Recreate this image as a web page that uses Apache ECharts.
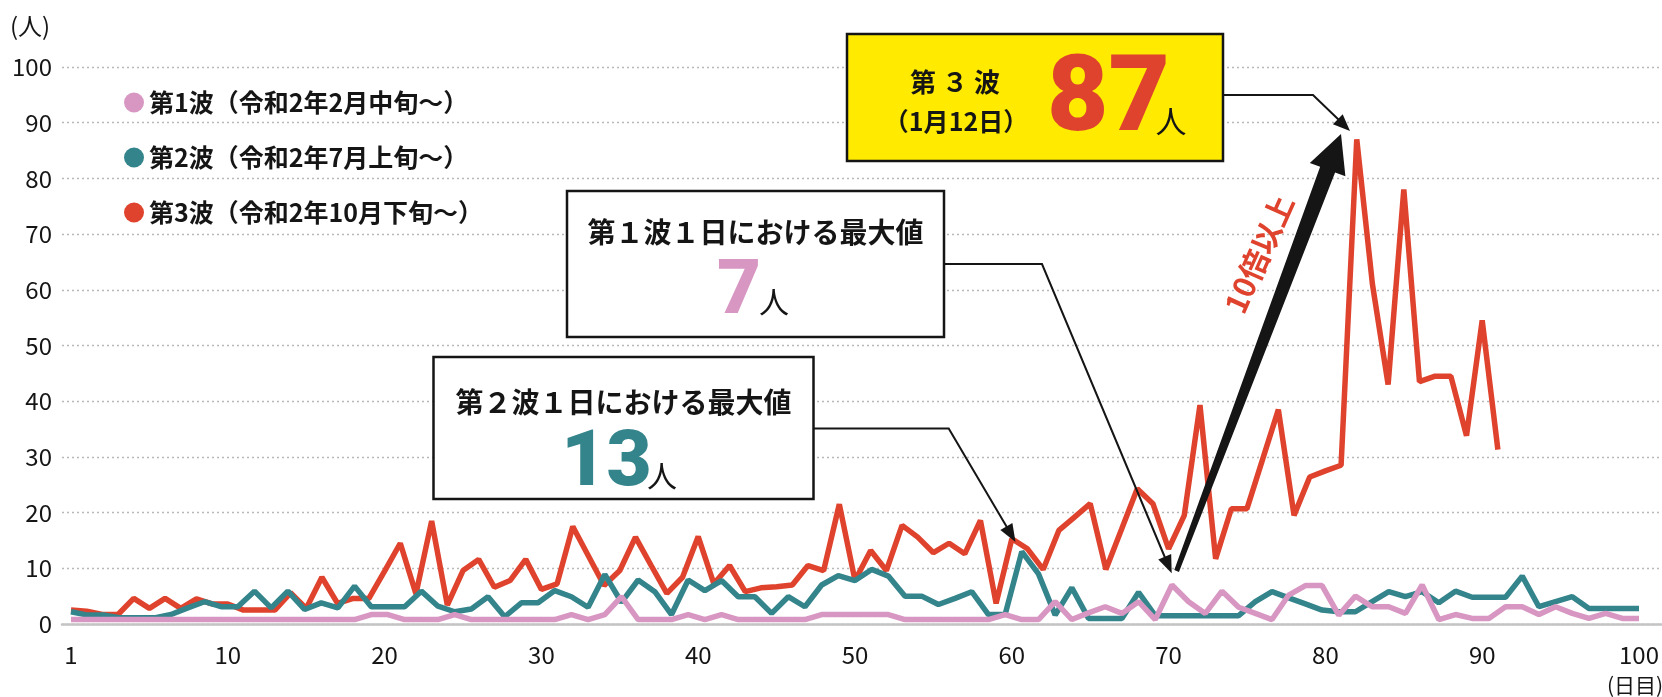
<!DOCTYPE html>
<html>
<head>
<meta charset="utf-8" />
<title>第1波・第2波・第3波 1日の新規感染者数</title>
<script src="https://cdn.jsdelivr.net/npm/echarts@6/dist/echarts.min.js"></script>
<style>
	html, body { margin: 0; padding: 0; background: #fff; }
	#main { width: 1662px; height: 697px; }
</style>
</head>
<body>
<div id="main"></div>
<script>
	var legendNames = ['第1波（令和2年2月中旬～）', '第2波（令和2年7月上旬～）', '第3波（令和2年10月下旬～）'];
	var xTickLabels = ['1', '10', '20', '30', '40', '50', '60', '70', '80', '90', '100'];

	// 第1波 (pink)
	var wave1 = [
		0.8, 0.8, 0.8, 0.8, 0.8, 0.8, 0.8, 0.8, 0.8, 0.8,
		0.8, 0.8, 0.8, 0.8, 0.8, 0.8, 0.8, 0.8, 1.7, 1.7,
		0.8, 0.8, 0.8, 1.7, 0.8, 0.8, 0.8, 0.8, 0.8, 0.8,
		1.7, 0.8, 1.7, 4.9, 0.8, 0.8, 0.8, 1.7, 0.8, 1.7,
		0.8, 0.8, 0.8, 0.8, 0.8, 1.7, 1.7, 1.7, 1.7, 1.7,
		0.8, 0.8, 0.8, 0.8, 0.8, 0.8, 1.7, 0.8, 0.8, 4.0,
		0.8, 2.0, 3.1, 1.9, 4.0, 0.8, 7, 4.0, 1.9, 5.9,
		3.0, 1.9, 0.8, 5.2, 6.9, 6.9, 1.6, 5.0, 3.1, 3.1,
		1.9, 7.0, 0.8, 1.7, 1.0, 1.0, 3.1, 3.1, 1.7, 3.1,
		1.9, 1.0, 1.9, 1.0, 1.0
	];
	// 第2波 (teal)
	var wave2 = [
		2.2, 1.6, 1.6, 1.1, 1.1, 1.1, 1.7, 2.9, 4.0, 3.1,
		3.1, 5.9, 2.9, 5.9, 2.6, 3.8, 2.9, 6.8, 3.1, 3.1,
		3.1, 5.9, 3.2, 2.2, 2.7, 4.9, 1.3, 3.8, 3.8, 6.0,
		4.9, 3.0, 8.9, 3.9, 7.9, 5.8, 1.7, 7.9, 6.0, 7.8,
		4.9, 4.9, 1.9, 4.9, 3.1, 7.0, 8.7, 7.8, 9.8, 8.6,
		5.0, 5.0, 3.5, 4.6, 5.8, 1.7, 1.7, 13, 9.0, 1.6,
		6.5, 1.0, 1.0, 1.0, 5.7, 1.5, 1.5, 1.5, 1.5, 1.5,
		1.5, 4.0, 5.8, 4.7, 3.6, 2.5, 2.2, 2.2, 4.0, 5.8,
		4.9, 5.8, 3.8, 5.9, 4.8, 4.8, 4.8, 8.6, 3.1, 4.0,
		4.9, 2.8, 2.8, 2.8, 2.8
	];
	// 第3波 (red)
	var wave3 = [
		2.5, 2.3, 1.7, 1.7, 4.6, 2.8, 4.6, 2.8, 4.5, 3.6,
		3.6, 2.5, 2.5, 2.5, 5.6, 2.8, 8.4, 3.7, 4.6, 4.6,
		9.5, 14.5, 5.4, 18.5, 3.4, 9.6, 11.6, 6.6, 7.8, 11.6,
		6.2, 7.2, 17.5, 12.2, 6.9, 9.6, 15.6, 10.5, 5.5, 8.4,
		15.7, 7.2, 10.5, 5.8, 6.5, 6.7, 7.0, 10.5, 9.6, 21.5,
		7.8, 13.2, 9.6, 17.7, 15.6, 12.8, 14.5, 12.6, 18.6, 3.7,
		15.3, 13.5, 9.8, 16.8, 19.2, 21.6, 9.8, 17, 24.3, 21.6,
		13.5, 19.5, 39.3, 11.7, 20.7, 20.7, 29.6, 38.5, 19.5, 26.4,
		27.5, 28.5, 87, 61, 43, 78, 43.5, 44.5, 44.5, 33.8,
		54.5, 31.3
	];

	// slots on the two day axes (the red wave is drawn on a 101-slot scale, waves 1/2 on 95 slots)
	var days3 = [];
	for (var i = 0; i < 101; i++) days3.push(i + 1);
	var days12 = [];
	for (var j = 0; j < 95; j++) days12.push(j + 1);

	var PINK = '#d897c2', TEAL = '#34848c', RED = '#df432d', INK = '#151515';
	var CJK = "'Noto Sans CJK JP', 'Noto Sans', sans-serif";
	var NUM = "Roboto, 'Noto Sans', sans-serif";

	function txt(x, y, text, size, color, weight, family, align) {
		return {
			type: 'text', z: 120,
			style: {
				x: x, y: y, text: text, fill: color,
				font: weight + ' ' + size + 'px ' + family,
				align: align || 'center', verticalAlign: 'middle',
				textAlign: align || 'center', textVerticalAlign: 'middle'
			}
		};
	}

	function line(points) {
		return { type: 'polyline', z: 110, shape: { points: points }, style: { stroke: INK, lineWidth: 2, fill: null } };
	}

	function head(from, tip, len, half) {
		var dx = tip[0] - from[0], dy = tip[1] - from[1];
		var d = Math.sqrt(dx * dx + dy * dy), ux = dx / d, uy = dy / d;
		var bx = tip[0] - ux * len, by = tip[1] - uy * len;
		return {
			type: 'polygon', z: 110,
			shape: { points: [tip, [bx - uy * half, by + ux * half], [bx + uy * half, by - ux * half]] },
			style: { fill: INK }
		};
	}

	function fatArrow(tail, tip, tailHalf, shaftHalf, headLen, headHalf) {
		var dx = tip[0] - tail[0], dy = tip[1] - tail[1];
		var d = Math.sqrt(dx * dx + dy * dy), ux = dx / d, uy = dy / d;
		var nx = -uy, ny = ux;
		var bx = tip[0] - ux * headLen, by = tip[1] - uy * headLen;
		return {
			type: 'polygon', z: 110,
			shape: {
				points: [
					[tail[0] + nx * tailHalf, tail[1] + ny * tailHalf],
					[bx + nx * shaftHalf, by + ny * shaftHalf],
					[bx + nx * headHalf, by + ny * headHalf],
					tip,
					[bx - nx * headHalf, by - ny * headHalf],
					[bx - nx * shaftHalf, by - ny * shaftHalf],
					[tail[0] - nx * tailHalf, tail[1] - ny * tailHalf]
				]
			},
			style: { fill: INK }
		};
	}

	var graphics = [
		// unit labels
		txt(10, 26, '(人)', 24, INK, 'normal', CJK, 'left'),
		txt(1607, 685, '(日目)', 21, INK, 'normal', CJK, 'left'),

		// 第3波 box
		{ type: 'rect', z: 100, shape: { x: 847, y: 34, width: 376, height: 127 }, style: { fill: '#ffea00', stroke: INK, lineWidth: 2.5 } },
		txt(955, 82, '第 ３ 波', 26, INK, 'bold', CJK),
		txt(956, 121, '（1月12日）', 25, INK, 'bold', CJK),
		txt(1047, 103, '87', 106, RED, '900', NUM, 'left'),
		txt(1171, 121, '人', 31, INK, 'normal', CJK),

		// 第1波 box
		{ type: 'rect', z: 100, shape: { x: 567, y: 191, width: 377, height: 146 }, style: { fill: '#fff', stroke: INK, lineWidth: 2.5 } },
		txt(755.5, 232, '第１波１日における最大値', 28, INK, 'bold', CJK),
		txt(739, 294, '7', 76, PINK, '900', NUM),
		txt(774, 302, '人', 30, INK, 'normal', CJK),

		// 第2波 box
		{ type: 'rect', z: 100, shape: { x: 433.5, y: 357, width: 380, height: 142 }, style: { fill: '#fff', stroke: INK, lineWidth: 2.5 } },
		txt(623.5, 402, '第２波１日における最大値', 28, INK, 'bold', CJK),
		txt(606.5, 465, '13', 78, TEAL, '900', NUM),
		txt(662, 476, '人', 30, INK, 'normal', CJK),

		// leader lines
		line([[1223, 95], [1313, 95], [1340, 121]]),
		head([1313, 95], [1350, 131], 17, 7),
		line([[944, 264], [1042, 264], [1166, 560]]),
		head([1042, 264], [1171.7, 573.3], 18, 7),
		line([[813, 428.5], [948.7, 428.5], [1008, 529]]),
		head([948.7, 428.5], [1015.5, 542], 18, 7),

		// 10倍以上
		fatArrow([1176.6, 571], [1341, 134], 2.5, 8, 38, 19),
		{
			type: 'text', z: 120, x: 1259, y: 254, rotation: 66 * Math.PI / 180,
			style: {
				x: 0, y: 0, text: '10倍以上', fill: RED, font: 'bold 30px ' + CJK,
				align: 'center', verticalAlign: 'middle', textAlign: 'center', textVerticalAlign: 'middle'
			}
		}
	];

	var myChart = echarts.init(document.getElementById('main'));
	var option = {
		animation: false,
		backgroundColor: '#fff',
		textStyle: { fontFamily: CJK },
		legend: {
			orient: 'vertical',
			left: 119,
			top: 85,
			itemWidth: 20,
			itemHeight: 20,
			itemGap: 30,
			icon: 'circle',
			selectedMode: false,
			data: legendNames,
			textStyle: { fontSize: 25, fontWeight: 'bold', color: INK, fontFamily: CJK }
		},
		grid: [
			{ left: 62, right: 0, top: 67, bottom: 73, outerBoundsMode: 'none' },
			{ left: 71, right: 23, top: 67, bottom: 73, outerBoundsMode: 'none' }
		],
		xAxis: [
			{
				gridIndex: 0, type: 'value', min: 0, max: 1,
				axisLine: { show: true, lineStyle: { color: '#c4c4c4', width: 2.5 } },
				axisTick: { show: false }, axisLabel: { show: false }, splitLine: { show: false }
			},
			{
				gridIndex: 1, type: 'category', data: days3, boundaryGap: false,
				axisLine: { show: false }, axisTick: { show: false }, splitLine: { show: false },
				axisLabel: {
					interval: function (index) { return index % 10 === 0; },
					formatter: function (value, index) { return xTickLabels[index / 10]; },
					fontSize: 24, color: INK, margin: 19, fontFamily: CJK
				}
			},
			{ gridIndex: 1, type: 'category', data: days12, boundaryGap: false, show: false }
		],
		yAxis: [
			{
				gridIndex: 0, type: 'value', min: 0, max: 100, interval: 10,
				axisLine: { show: false }, axisTick: { show: false },
				axisLabel: { fontSize: 24, color: INK, margin: 10, fontFamily: CJK },
				splitLine: { lineStyle: { type: [2, 3], color: '#b8b8b8', width: 1.3 } }
			},
			{ gridIndex: 1, type: 'value', min: 0, max: 100, show: false }
		],
		series: [
			{
				name: legendNames[2], type: 'line', xAxisIndex: 1, yAxisIndex: 1, data: wave3,
				symbol: 'none', z: 2,
				lineStyle: { width: 5.5, color: RED }, itemStyle: { color: RED }
			},
			{
				name: legendNames[1], type: 'line', xAxisIndex: 2, yAxisIndex: 1, data: wave2,
				symbol: 'none', z: 3,
				lineStyle: { width: 5.5, color: TEAL }, itemStyle: { color: TEAL }
			},
			{
				name: legendNames[0], type: 'line', xAxisIndex: 2, yAxisIndex: 1, data: wave1,
				symbol: 'none', z: 4,
				lineStyle: { width: 5.5, color: PINK }, itemStyle: { color: PINK }
			}
		],
		graphic: graphics
	};
	myChart.setOption(option);
</script>
</body>
</html>
